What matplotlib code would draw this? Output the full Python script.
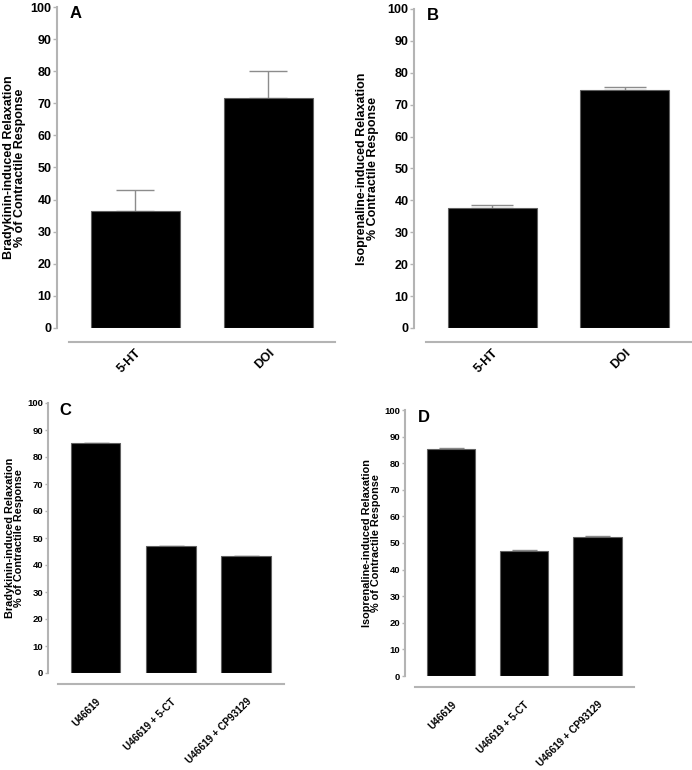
import matplotlib
matplotlib.use("Agg")
import matplotlib.pyplot as plt
import numpy as np

plt.rcParams['font.family'] = ['Liberation Sans', 'DejaVu Sans']
plt.rcParams['font.weight'] = 'bold'

# Data
cats_top = ["5-HT", "DOI"]
bk_top = [36.3, 71.5]
bk_top_err = [6.7, 8.6]
iso_top = [37.5, 74.6]
iso_top_err = [1.0, 0.9]

cats_bot = ["U46619", "U46619 + 5-CT", "U46619 + CP93129"]
bk_bot = [85.3, 47.0, 43.2]
bk_bot_err = [0.0, 0.0, 0.0]
iso_bot = [85.4, 47.0, 52.3]
iso_bot_err = [0.2, 0.2, 0.3]

yticks = list(range(0, 101, 10))

W, H = 692, 770
fig = plt.figure(figsize=(W / 100, H / 100), dpi=100)

def px_axes(left, right, top, bottom):
    return fig.add_axes([left / W, 1 - bottom / H, (right - left) / W, (bottom - top) / H])

GRAY = '#b4b4b4'

def panel(ax, cats, vals, errs, xlim, width, ylab1, ylab2, fs_tick, fs_xt, fs_lab,
          offset, bounds, labelpad, capsize, xpad, ticklen):
    x = np.arange(len(cats))
    ax.errorbar(x, vals, yerr=[np.zeros(len(vals)), errs], fmt='none', ecolor='#8c8c8c',
                elinewidth=1.0, capsize=capsize, capthick=1.0, zorder=1)
    ax.bar(x, vals, width=width, color='black', edgecolor='#606060', linewidth=0.8, zorder=2)
    ax.set_xlim(*xlim)
    ax.set_ylim(0, 100)
    ax.set_yticks(yticks)
    ax.set_xticks(x)
    ax.set_xticklabels(cats)
    for s in ['top', 'right']:
        ax.spines[s].set_visible(False)
    ax.spines['left'].set_color(GRAY)
    ax.spines['left'].set_linewidth(1.5)
    ax.spines['bottom'].set_color(GRAY)
    ax.spines['bottom'].set_linewidth(1.5)
    ax.spines['bottom'].set_position(('outward', offset))
    ax.spines['bottom'].set_bounds(*bounds)
    ax.tick_params(axis='y', length=ticklen, width=1, color=GRAY, labelsize=fs_tick, pad=1)
    ax.tick_params(axis='x', length=0, pad=xpad, labelsize=fs_xt)
    for t in ax.get_yticklabels():
        t.set_fontweight('bold')
    for t in ax.get_xticklabels():
        t.set_fontweight('bold')
        t.set_rotation(45)
        t.set_ha('right')
        t.set_va('top')
        t.set_rotation_mode('anchor')
    ax.set_ylabel(ylab1 + "\n" + ylab2, fontsize=fs_lab, fontweight='bold', linespacing=0.95,
                  labelpad=labelpad)

# Panel A
axA = px_axes(57, 335, 7, 328)
panel(axA, cats_top, bk_top, bk_top_err, (-0.59, 1.5), 0.67,
      "Bradykinin-induced Relaxation", "% of Contractile Response", 9, 9, 9, 10, (-0.5, 1.5),
      3, 14, 3.5, 3)
# Panel B
axB = px_axes(414, 691, 9, 328)
panel(axB, cats_top, iso_top, iso_top_err, (-0.59, 1.5), 0.67,
      "Isoprenaline-induced Relaxation", "% Contractile Response", 9, 9, 9, 10, (-0.5, 1.5),
      6, 15, 3.5, 3)
# Panel C
axC = px_axes(48, 284, 403, 673)
panel(axC, cats_bot, bk_bot, bk_bot_err, (-0.63, 2.5), 0.66,
      "Bradykinin-induced Relaxation", "% of Contractile Response", 6.8, 7.2, 7.8, 8, (-0.5, 2.5),
      2, 9, 9, 2.5)
# Panel D
axD = px_axes(405, 634, 410, 676)
panel(axD, cats_bot, iso_bot, iso_bot_err, (-0.63, 2.5), 0.66,
      "Isoprenaline-induced Relaxation", "% of Contractile Response", 6.8, 7.2, 7.8, 8, (-0.5, 2.5),
      2, 9, 9, 2.5)

for lbl, xp, yp in [('A', 70, 6), ('B', 427, 8), ('C', 59, 403), ('D', 418, 410)]:
    fig.text(xp / W, 1 - yp / H, lbl, fontsize=12, fontweight='bold', ha='left', va='top')

fig.savefig('out.png', dpi=100)
